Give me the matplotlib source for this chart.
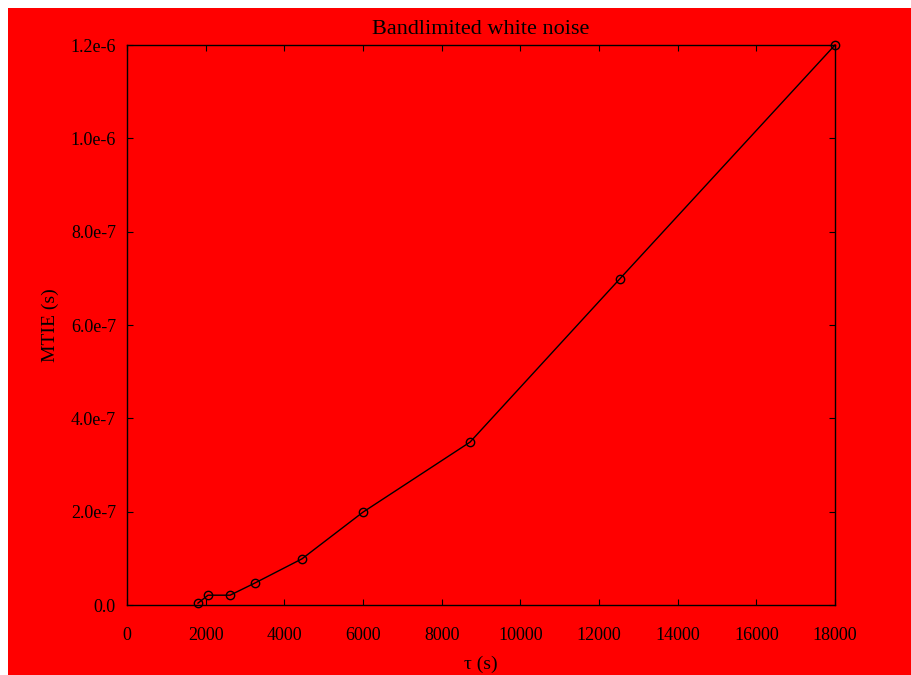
import matplotlib
matplotlib.use("Agg")
import matplotlib.pyplot as plt
from matplotlib.patches import Rectangle

# values
tau = [1805, 2060, 2620, 3250, 4450, 6000, 8720, 12530, 18000]
mtie = [0.004e-6, 0.021e-6, 0.021e-6, 0.047e-6, 0.099e-6, 0.199e-6,
        0.349e-6, 0.699e-6, 1.2e-6]
x_ticks = [0, 2000, 4000, 6000, 8000, 10000, 12000, 14000, 16000, 18000]
y_ticks = [0, 0.2e-6, 0.4e-6, 0.6e-6, 0.8e-6, 1.0e-6, 1.2e-6]
y_labels = ["0.0", "2.0e-7", "4.0e-7", "6.0e-7", "8.0e-7", "1.0e-6", "1.2e-6"]

plt.rcParams['font.family'] = ['Liberation Serif', 'DejaVu Serif']

fig = plt.figure(figsize=(9.12, 6.75), dpi=100)
fig.patch.set_facecolor('white')
# red background, leaving a thin white strip at the top and left
fig.patches.append(Rectangle((8 / 912, 0), 1, 1 - 8 / 675, transform=fig.transFigure,
                             facecolor='red', edgecolor='none', zorder=-10))

ax = fig.add_axes([127 / 912, 1 - 605 / 675, (835 - 127) / 912, (605 - 45) / 675])
ax.set_facecolor('red')

ax.plot(tau, mtie, color='black', linewidth=1.0, marker='o', markersize=6,
        markerfacecolor='none', markeredgecolor='black', markeredgewidth=1.0,
        clip_on=False)

ax.set_xlim(0, 18000)
ax.set_ylim(0, 1.2e-6)
ax.set_xticks(x_ticks)
ax.set_xticklabels([str(t) for t in x_ticks])
ax.set_yticks(y_ticks)
ax.set_yticklabels(y_labels)
ax.tick_params(direction='in', top=True, right=True, labelsize=13, length=4)
ax.tick_params(axis='x', pad=16)
ax.tick_params(axis='y', pad=8)
for s in ax.spines.values():
    s.set_linewidth(1.0)
    s.set_color('black')

ax.set_title("Bandlimited white noise", fontsize=16, pad=8)
ax.set_xlabel("τ (s)", fontsize=14, labelpad=8)
ax.set_ylabel("MTIE (s)", fontsize=14, labelpad=8)

fig.savefig("out.png", dpi=100, facecolor=fig.get_facecolor())
